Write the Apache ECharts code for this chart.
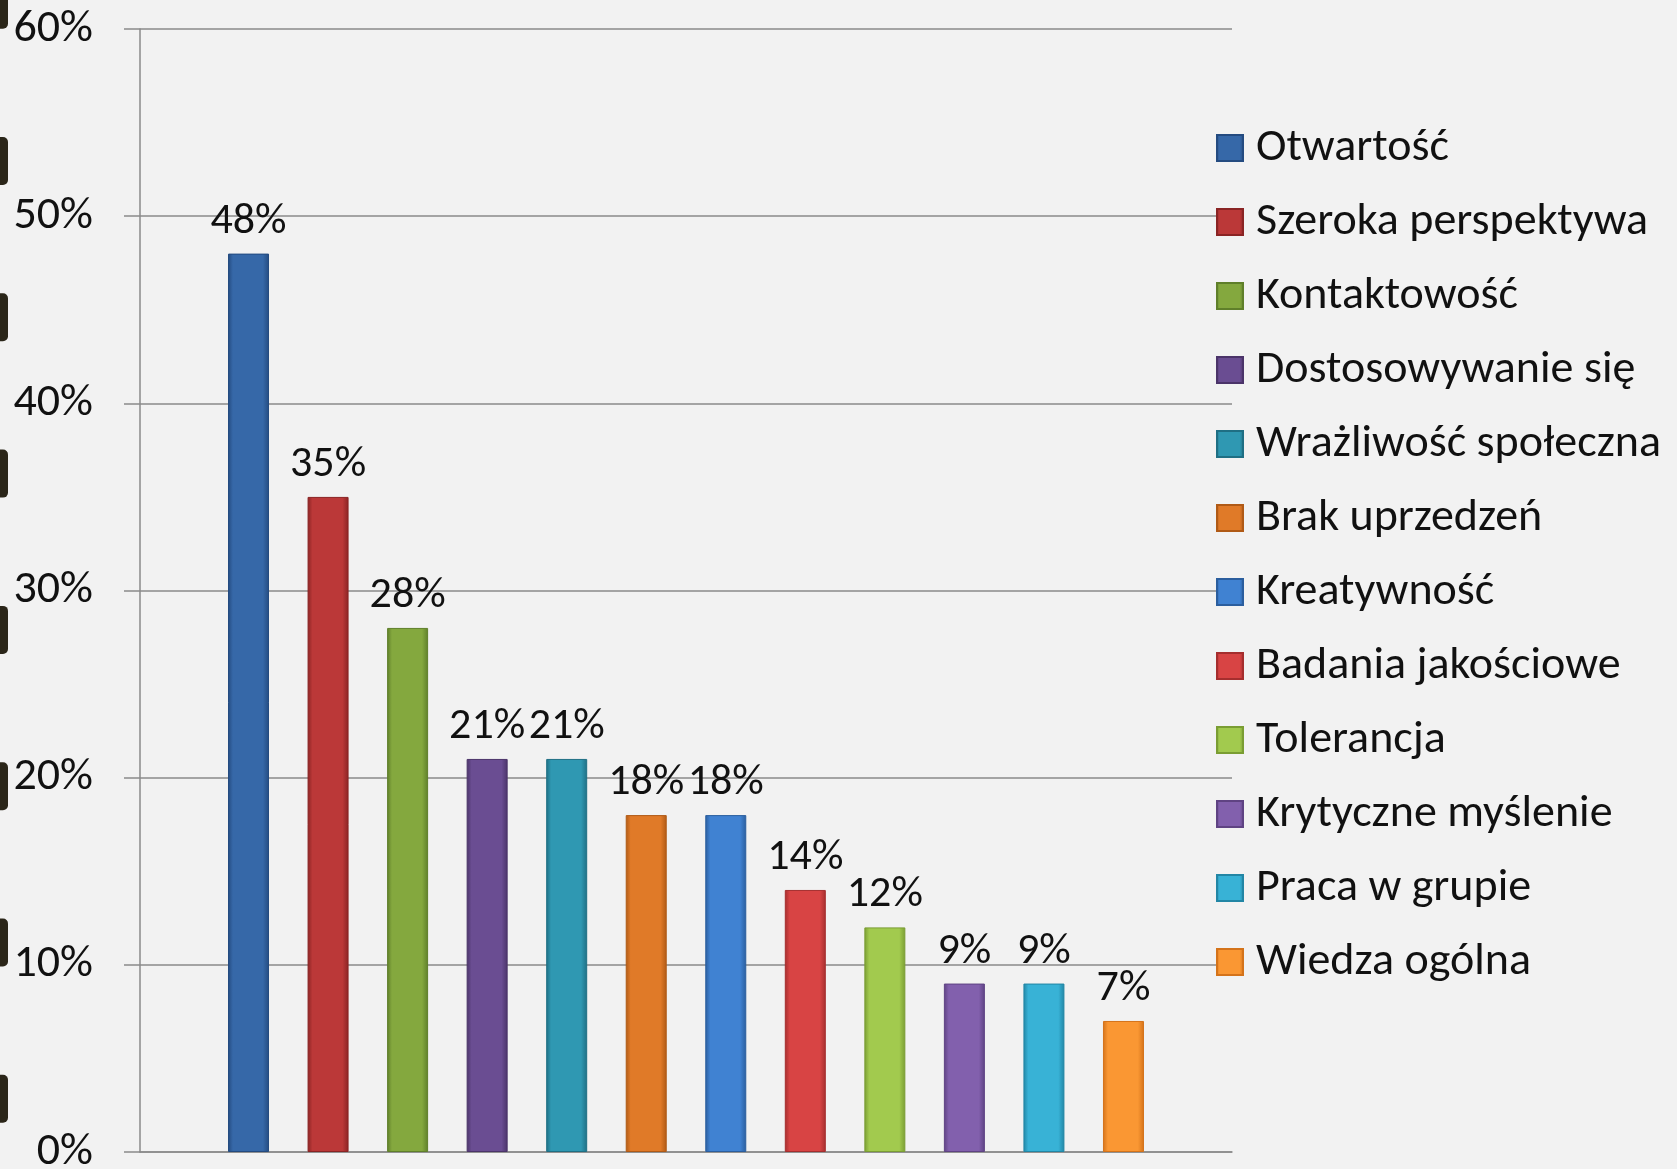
<!DOCTYPE html>
<html>
<head>
<meta charset="utf-8">
<script src="https://cdn.jsdelivr.net/npm/echarts@6/dist/echarts.min.js"></script>
<style>
  html, body { margin: 0; padding: 0; background: #f2f2f2; }
  #chart { width: 1677px; height: 1169px; }
</style>
</head>
<body>
<div id="chart"></div>
<script>
const categories = [
  'Otwartość', 'Szeroka perspektywa', 'Kontaktowość', 'Dostosowywanie się',
  'Wrażliwość społeczna', 'Brak uprzedzeń', 'Kreatywność', 'Badania jakościowe',
  'Tolerancja', 'Krytyczne myślenie', 'Praca w grupie', 'Wiedza ogólna'
];
const values = [48, 35, 28, 21, 21, 18, 18, 14, 12, 9, 9, 7];
const yTicks = [0, 10, 20, 30, 40, 50, 60];
// [edge, centre] colours per bar
const palette = [
  ['#244b80', '#3668a8'],
  ['#8a2424', '#bb3838'],
  ['#5f7f2a', '#84a83e'],
  ['#4b3469', '#6a4d92'],
  ['#1f6f84', '#2f98b2'],
  ['#b05a16', '#e07a28'],
  ['#2b5e9e', '#4082d2'],
  ['#a52e2e', '#d84444'],
  ['#7a9d33', '#a2ca4e'],
  ['#5f4383', '#8260ad'],
  ['#2286a5', '#38b2d6'],
  ['#d4731a', '#fa9733']
];

const FONT = 'Carlito, Calibri, Lato, sans-serif';
const FS = 46;

function grad(c) {
  return {
    type: 'linear', x: 0, y: 0, x2: 1, y2: 0,
    colorStops: [
      { offset: 0, color: c[0] },
      { offset: 0.12, color: c[1] },
      { offset: 0.85, color: c[1] },
      { offset: 1, color: c[0] }
    ]
  };
}

const series = categories.map((name, i) => ({
  name: name,
  type: 'bar',
  data: [values[i]],
  barWidth: 41,
  barGap: '94%',
  itemStyle: { color: grad(palette[i]), borderColor: palette[i][0], borderWidth: 1 },
  label: {
    show: true,
    position: 'top',
    distance: 10,
    formatter: '{c}%',
    fontFamily: FONT,
    fontSize: 44,
    color: '#111'
  }
}));

const marks = [];
const markTop = 137, markStep = 156.3;
for (let k = -1; k < 7; k++) {
  marks.push({
    type: 'rect',
    shape: { x: -10, y: markTop + k * markStep, width: 18, height: 48, r: 5 },
    style: { fill: '#2b2619' },
    silent: true
  });
}

const chart = echarts.init(document.getElementById('chart'), null, { renderer: 'canvas' });
chart.setOption({
  backgroundColor: '#f2f2f2',
  animation: false,
  graphic: marks,
  grid: { left: 140, right: 445, top: 29, bottom: 17, containLabel: false, outerBoundsMode: 'none' },
  legend: {
    orient: 'vertical',
    left: 1216,
    top: 124,
    padding: 0,
    itemWidth: 26,
    itemHeight: 26,
    itemGap: 26,
    icon: 'rect',
    data: categories,
    textStyle: {
      fontFamily: FONT,
      fontSize: FS,
      color: '#111',
      lineHeight: 48,
      padding: [0, 0, 0, 8]
    }
  },
  xAxis: {
    type: 'category',
    data: [''],
    axisLine: { show: true, lineStyle: { color: '#8a8a8a', width: 1.5 } },
    axisTick: { show: false },
    axisLabel: { show: false }
  },
  yAxis: {
    type: 'value',
    min: yTicks[0],
    max: yTicks[yTicks.length - 1],
    interval: 10,
    axisLine: { show: true, lineStyle: { color: '#8a8a8a', width: 1.5 } },
    axisTick: { show: true, length: 16, lineStyle: { color: '#8a8a8a', width: 1.5 } },
    axisLabel: {
      formatter: '{value}%',
      margin: 47,
      fontFamily: FONT,
      fontSize: FS,
      color: '#111'
    },
    splitLine: { show: true, lineStyle: { color: '#8a8a8a', width: 1.5 } }
  },
  series: series
});
</script>
</body>
</html>
